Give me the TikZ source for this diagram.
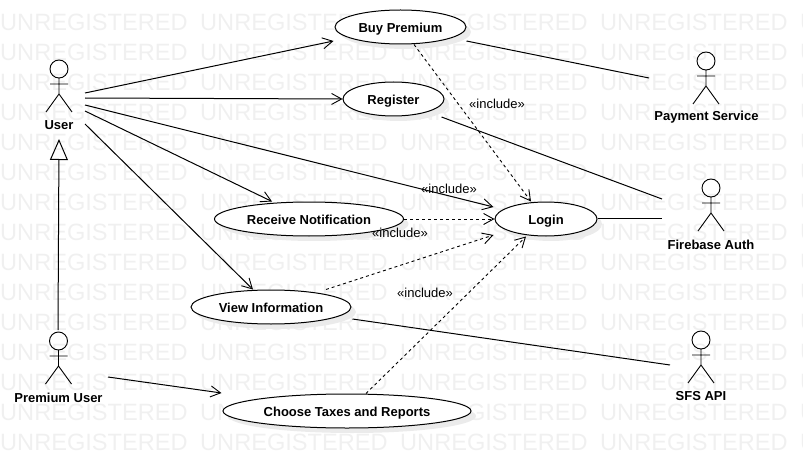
\documentclass[tikz,border=0pt]{standalone}
\usepackage{fontspec}
\setmainfont{Liberation Sans}
\usetikzlibrary{positioning,arrows.meta,shadows,shapes.geometric}
\definecolor{wmgray}{gray}{0.94}
\tikzset{
  usecase/.style={shape=ellipse,draw,fill=white,line width=1pt,inner sep=0pt,text height=11pt,text depth=0pt,font=\fontsize{13}{15}\selectfont\bfseries,drop shadow={shadow xshift=5pt,shadow yshift=-5pt,fill=black!8,opacity=1}},
  actorname/.style={inner sep=0pt,font=\fontsize{13}{15}\selectfont\bfseries},
  includetag/.style={inner sep=0pt,font=\fontsize{13}{15}\selectfont},
  watermark/.style={anchor=west,inner sep=0pt,text=wmgray,font=\fontsize{23.6}{26}\selectfont},
  assoc/.style={line width=1pt},
  uses/.style={line width=1pt,-{Straight Barb[length=10pt,width=11pt,line width=0.9pt]}},
  incl/.style={line width=0.9pt,dash pattern=on 3pt off 3pt,-{Straight Barb[length=10pt,width=11pt,line width=0.9pt]}},
  genl/.style={line width=1pt,-{Triangle[open,length=21pt,width=18pt,line width=1pt]}},
  stickman/.pic={
    \draw[line width=0.9pt] (0,0) circle (9) (0,9) -- (0,25) (-9,15) -- (9,15) (-13,43) -- (0,25) -- (13,43);
  },
}
\begin{document}
\begin{tikzpicture}[x=1pt,y=-1pt]
  \useasboundingbox (0,0) rectangle (803,468);
  % watermark rows
  \foreach \r in {0,...,14} {
    \foreach \c in {0,...,4} {
      \node[watermark] (wm-\r-\c) at (200*\c,22+30*\r) {UNREGISTERED};
    }
  }
  % use cases
  \node[usecase,minimum width=131pt,minimum height=34pt] (buy) at (400.5,27) {Buy Premium};
  \node[usecase,minimum width=101pt,minimum height=34pt] (register) at (393.5,99) {Register};
  \node[usecase,minimum width=189pt,minimum height=34pt] (receive) at (309,219) {Receive Notification};
  \node[usecase,minimum width=102pt,minimum height=34pt] (login) at (546,219) {Login};
  \node[usecase,minimum width=160pt,minimum height=34pt] (view) at (271,307) {View Information};
  \node[usecase,minimum width=248pt,minimum height=34pt] (choose) at (347,411) {Choose Taxes and Reports};
  % actors
  \pic at (59,69) {stickman};
  \pic at (58.5,341) {stickman};
  \pic at (706,61) {stickman};
  \pic at (711,188) {stickman};
  \pic at (701,340) {stickman};
  \node[actorname] (user) at (59,125.5) {User};
  \node[actorname] (premium) at (58.5,397.5) {Premium User};
  \node[actorname] (payment) at (706.5,117.5) {Payment Service};
  \node[actorname] (firebase) at (711,244.5) {Firebase Auth};
  \node[actorname] (sfs) at (701,396.5) {SFS API};
  % connector ends at the actors
  \coordinate (user-buy) at (85,93);
  \coordinate (user-reg) at (85,98);
  \coordinate (user-login) at (85,105);
  \coordinate (user-rec) at (85,111);
  \coordinate (user-view) at (85,124);
  \coordinate (user-base) at (59,139);
  \coordinate (prem-top) at (58,330);
  \coordinate (prem-choose) at (108,377);
  \coordinate (pay-buy) at (649,78);
  \coordinate (fire-reg) at (662,199);
  \coordinate (fire-login) at (662,218);
  \coordinate (sfs-view) at (670,365);
  % associations
  \draw[uses] (user-buy) -- ([xshift=-1pt,yshift=-14pt]buy.west);
  \draw[uses] (user-reg) -- (register.west);
  \draw[uses] (user-login) -- ([xshift=-1pt,yshift=12pt]login.west);
  \draw[uses] (user-rec) -- ([xshift=-37pt]receive.north);
  \draw[uses] (user-view) -- ([xshift=-18pt]view.north);
  \draw[genl] (prem-top) -- (user-base);
  \draw[uses] (prem-choose) -- ([xshift=-1pt,yshift=18pt]choose.west);
  \draw[assoc] ([yshift=-14pt]buy.east) -- (pay-buy);
  \draw[assoc] ([xshift=-3pt,yshift=-18pt]register.east) -- (fire-reg);
  \draw[assoc] ([yshift=1pt]login.east) -- (fire-login);
  \draw[assoc] ([xshift=1pt,yshift=-12pt]view.east) -- (sfs-view);
  % includes
  \draw[incl] ([xshift=13.5pt]buy.south) -- ([xshift=-15pt]login.north);
  \draw[incl] (receive.east) -- (login.west);
  \draw[incl] ([xshift=55pt]view.north) -- ([xshift=-1pt,yshift=-16pt]login.west);
  \draw[incl] ([xshift=19pt]choose.north) -- ([xshift=-20pt]login.south);
  \node[includetag] (inc-buy) at (497,104) {«include»};
  \node[includetag] (inc-user) at (449,189) {«include»};
  \node[includetag] (inc-rec) at (400,232.5) {«include»};
  \node[includetag] (inc-view) at (425,293) {«include»};
\end{tikzpicture}
\end{document}
